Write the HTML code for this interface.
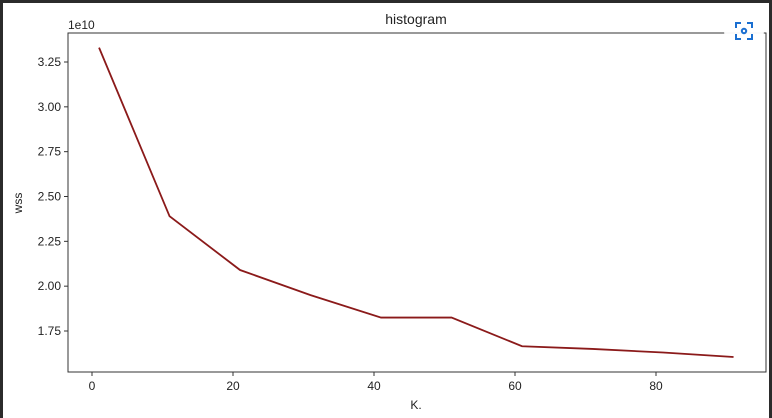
<!DOCTYPE html>
<html><head><style>
body{margin:0;width:772px;height:418px;overflow:hidden;background:#fff;font-family:"Liberation Sans","DejaVu Sans",sans-serif}
</style></head><body>
<svg width="772" height="418" style="display:block">
<rect x="0" y="0" width="772" height="3" fill="#2b2b2b"/>
<rect x="0" y="0" width="3" height="418" fill="#2b2b2b"/>
<rect x="769" y="0" width="3" height="418" fill="#2b2b2b"/>
<text x="416" y="24" font-size="14" text-anchor="middle" fill="#222">histogram</text>
<text x="68" y="29" font-size="12" fill="#222">1e10</text>
<g id="plot"></g>
<rect x="68" y="33" width="698" height="339" fill="none" stroke="#333" stroke-width="1"/>
<text x="416" y="409" font-size="12" text-anchor="middle" fill="#222">K.</text>
<text x="22" y="203" font-size="12" text-anchor="middle" fill="#222" transform="rotate(-90 22 203)">wss</text>
<circle cx="744" cy="31" r="20" fill="#fff" opacity="0.95"/>
<g stroke="#1a6fd1" stroke-width="2" fill="none">
<path d="M736 28v-5h5M747 23h5v5M752 34v5h-5M741 39h-5v-5"/>
<circle cx="744" cy="31" r="2.2"/>
</g>
</svg>
<script>
const ks=[1,11,21,31,41,51,61,71,81,91];
const wss=[3.33,2.39,2.09,1.95,1.825,1.825,1.665,1.65,1.63,1.605];
const xTicks=[0,20,40,60,80];
const yTicks=["1.75","2.00","2.25","2.50","2.75","3.00","3.25"];
const X=v=>92+(v-0)*(656-92)/80;
const Y=v=>331-(v-1.75)*(331-62)/1.5;
const g=document.getElementById('plot');
const NS='http://www.w3.org/2000/svg';
function mk(t,a){const e=document.createElementNS(NS,t);for(const k in a)e.setAttribute(k,a[k]);g.appendChild(e);return e;}
xTicks.forEach(v=>{
 const l=mk('line',{x1:X(v),x2:X(v),y1:372,y2:376,stroke:'#333'});
 
 
 const t=mk('text',{x:X(v),y:390,'font-size':12,'text-anchor':'middle',fill:'#222'});t.textContent=v;
 
 
});
yTicks.forEach(s=>{const v=parseFloat(s);
 const l=mk('line',{x1:64,x2:68,y1:Y(v),y2:Y(v),stroke:'#333'});
 
 
 const t=mk('text',{x:61,y:Y(v)+4,'font-size':12,'text-anchor':'end',fill:'#222'});t.textContent=s;
 
 
});
const p=mk('polyline',{points:ks.map((k,i)=>X(k)+','+Y(wss[i])).join(' '),fill:'none',stroke:'#8b1a1a','stroke-width':1.8});


</script>
</body></html>
